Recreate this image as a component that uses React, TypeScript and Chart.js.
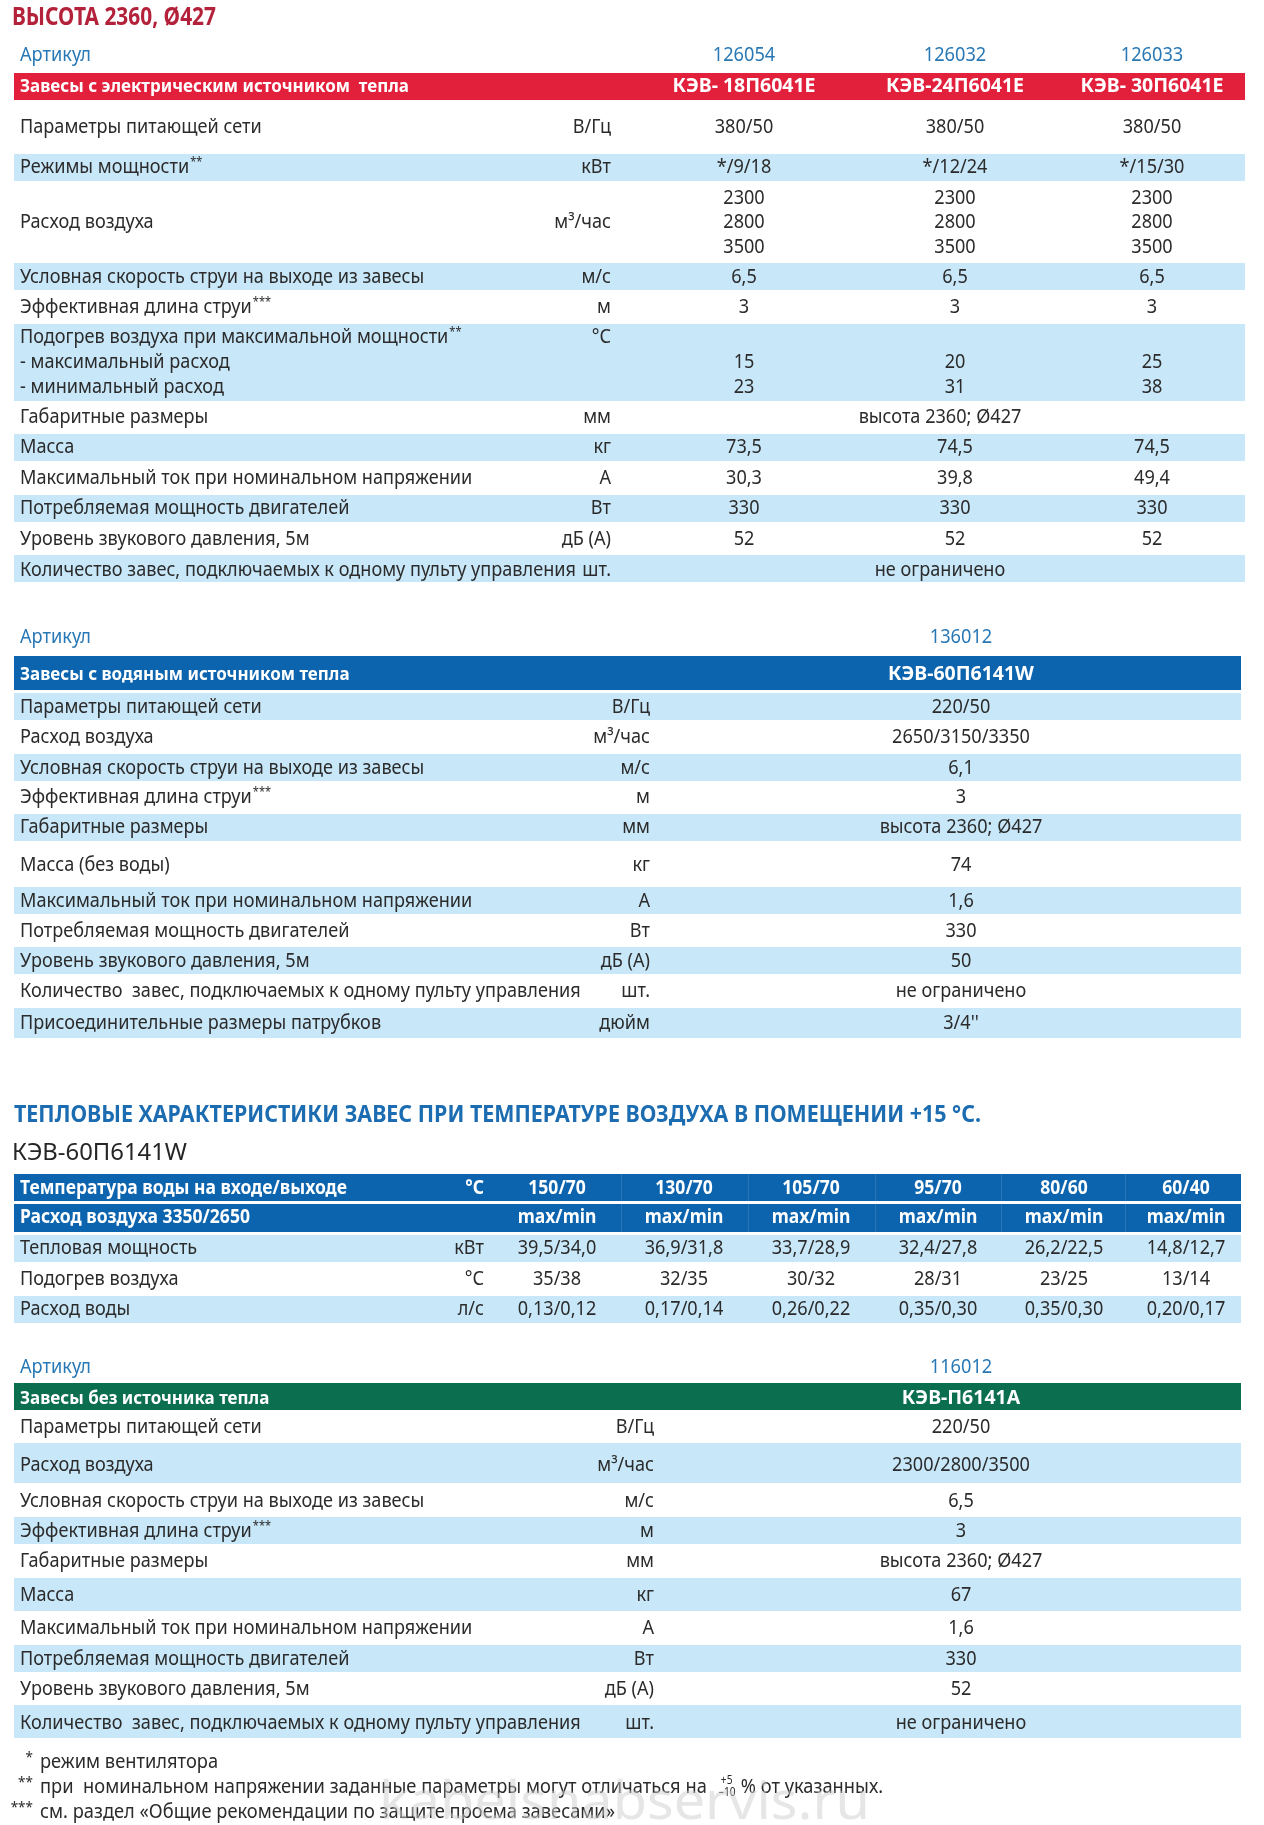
import React, { useEffect, useRef } from 'react';
import { Chart, registerables } from 'chart.js';

Chart.register(...registerables);

// ---------------- DATA ----------------
const PAGE_TITLE = 'ВЫСОТА 2360, Ø427';
const ARTICLE_LABEL = 'Артикул';

// Electric curtains
const ELEC_ARTICLES = ['126054', '126032', '126033'];
const ELEC_HEADER = 'Завесы с электрическим источником  тепла';
const ELEC_MODELS = ['КЭВ- 18П6041Е', 'КЭВ-24П6041Е', 'КЭВ- 30П6041Е'];
const ELEC_LABELS = [
  'Параметры питающей сети',
  'Режимы мощности**',
  'Расход воздуха',
  'Условная скорость струи на выходе из завесы',
  'Эффективная длина струи***',
  'Подогрев воздуха при максимальной мощности**\n- максимальный расход\n- минимальный расход',
  'Габаритные размеры',
  'Масса',
  'Максимальный ток при номинальном напряжении',
  'Потребляемая мощность двигателей',
  'Уровень звукового давления, 5м',
  'Количество завес, подключаемых к одному пульту управления',
];
const ELEC_UNITS = ['В/Гц', 'кВт', 'м³/час', 'м/с', 'м', '°С', 'мм', 'кг', 'А', 'Вт', 'дБ (А)', 'шт.'];
const ELEC_COL_1 = ['380/50', '*/9/18', '2300\n2800\n3500', '6,5', '3', '\n15\n23', '', '73,5', '30,3', '330', '52', ''];
const ELEC_COL_2 = ['380/50', '*/12/24', '2300\n2800\n3500', '6,5', '3', '\n20\n31', '', '74,5', '39,8', '330', '52', ''];
const ELEC_COL_3 = ['380/50', '*/15/30', '2300\n2800\n3500', '6,5', '3', '\n25\n38', '', '74,5', '49,4', '330', '52', ''];
const ELEC_SHARED = ['', '', '', '', '', '', 'высота 2360; Ø427', '', '', '', '', 'не ограничено'];

// Water curtains
const WATER_ARTICLE = '136012';
const WATER_HEADER = 'Завесы с водяным источником тепла';
const WATER_MODEL = 'КЭВ-60П6141W';
const WATER_LABELS = [
  'Параметры питающей сети',
  'Расход воздуха',
  'Условная скорость струи на выходе из завесы',
  'Эффективная длина струи***',
  'Габаритные размеры',
  'Масса (без воды)',
  'Максимальный ток при номинальном напряжении',
  'Потребляемая мощность двигателей',
  'Уровень звукового давления, 5м',
  'Количество  завес, подключаемых к одному пульту управления',
  'Присоединительные размеры патрубков',
];
const WATER_UNITS = ['В/Гц', 'м³/час', 'м/с', 'м', 'мм', 'кг', 'А', 'Вт', 'дБ (А)', 'шт.', 'дюйм'];
const WATER_VALUES = ['220/50', '2650/3150/3350', '6,1', '3', 'высота 2360; Ø427', '74', '1,6', '330', '50', 'не ограничено', "3/4''"];

// Thermal characteristics
const THERMAL_TITLE = 'ТЕПЛОВЫЕ ХАРАКТЕРИСТИКИ ЗАВЕС ПРИ ТЕМПЕРАТУРЕ ВОЗДУХА В ПОМЕЩЕНИИ +15 °С.';
const THERMAL_MODEL = 'КЭВ-60П6141W';
const WATER_TEMP_LABEL = 'Температура воды на входе/выходе';
const WATER_TEMP_UNIT = '°С';
const WATER_TEMPS = ['150/70', '130/70', '105/70', '95/70', '80/60', '60/40'];
const AIRFLOW_LABEL = 'Расход воздуха 3350/2650';
const AIRFLOW_MODES = ['max/min', 'max/min', 'max/min', 'max/min', 'max/min', 'max/min'];
const THERMAL_LABELS = ['Тепловая мощность', 'Подогрев воздуха', 'Расход воды'];
const THERMAL_UNITS = ['кВт', '°С', 'л/с'];
const HEAT_OUTPUT = ['39,5/34,0', '36,9/31,8', '33,7/28,9', '32,4/27,8', '26,2/22,5', '14,8/12,7'];
const AIR_HEATING = ['35/38', '32/35', '30/32', '28/31', '23/25', '13/14'];
const WATER_FLOW = ['0,13/0,12', '0,17/0,14', '0,26/0,22', '0,35/0,30', '0,35/0,30', '0,20/0,17'];

// Fan-only curtains
const FAN_ARTICLE = '116012';
const FAN_HEADER = 'Завесы без источника тепла';
const FAN_MODEL = 'КЭВ-П6141А';
const FAN_LABELS = [
  'Параметры питающей сети',
  'Расход воздуха',
  'Условная скорость струи на выходе из завесы',
  'Эффективная длина струи***',
  'Габаритные размеры',
  'Масса',
  'Максимальный ток при номинальном напряжении',
  'Потребляемая мощность двигателей',
  'Уровень звукового давления, 5м',
  'Количество  завес, подключаемых к одному пульту управления',
];
const FAN_UNITS = ['В/Гц', 'м³/час', 'м/с', 'м', 'мм', 'кг', 'А', 'Вт', 'дБ (А)', 'шт.'];
const FAN_VALUES = ['220/50', '2300/2800/3500', '6,5', '3', 'высота 2360; Ø427', '67', '1,6', '330', '52', 'не ограничено'];

// Footnotes
const FOOTNOTE_MARKS = ['*', '**', '***'];
const FOOTNOTES = [
  'режим вентилятора',
  'при  номинальном напряжении заданные параметры могут отличаться на',
  'см. раздел «Общие рекомендации по защите проема завесами»',
];
const TOLERANCE_UP = '+5';
const TOLERANCE_DOWN = '–10';
const TOLERANCE_TAIL = '% от указанных.';
const WATERMARK = 'kabelsnabservis.ru';

// ---------------- LAYOUT & STYLE ----------------
const W = 1264;
const H = 1825;
const SHADE = '#c8e7f8';
const RED = '#e3203c';
const BLUE = '#0c64ae';
const GREEN = '#0b6e4f';
const FONT = '"Noto Sans", "Open Sans", sans-serif';

type Layout = {
  left: number; right: number; labelX: number; unitRight: number; valueX: number[]; sharedX: number;
  articleY: number; headers: number[][]; headerTextY: number[]; headerColor: string;
  rowTops: number[]; end: number; textY: number[]; shaded: boolean[]; lineGap: number;
};

const ELEC_LAYOUT: Layout = {
  left: 14, right: 1245, labelX: 20, unitRight: 611, valueX: [744, 955, 1152], sharedX: 940,
  articleY: 56, headers: [[73, 100]], headerTextY: [87], headerColor: RED,
  rowTops: [100, 154, 181, 263, 290, 324, 401, 434, 461, 495, 522, 555], end: 582,
  textY: [128, 168, 223, 278, 308, 338, 418, 448, 479, 509, 540, 571],
  shaded: [false, true, false, true, false, true, false, true, false, true, false, true], lineGap: 24.7,
};
const WATER_LAYOUT: Layout = {
  left: 14, right: 1241, labelX: 20, unitRight: 650, valueX: [961], sharedX: 961,
  articleY: 638, headers: [[656, 690]], headerTextY: [675], headerColor: BLUE,
  rowTops: [693, 720, 754, 781, 814, 841, 887, 914, 947, 974, 1008], end: 1038,
  textY: [708, 738, 769, 798, 828, 866, 902, 932, 962, 992, 1024],
  shaded: [true, false, true, false, true, false, true, false, true, false, true], lineGap: 24.7,
};
const THERMAL_LAYOUT: Layout = {
  left: 14, right: 1241, labelX: 20, unitRight: 484, valueX: [557, 684, 811, 938, 1064, 1186], sharedX: 900,
  articleY: 0, headers: [[1174, 1201], [1204, 1232]], headerTextY: [1189, 1218], headerColor: BLUE,
  rowTops: [1235, 1262, 1296], end: 1323, textY: [1249, 1280, 1310],
  shaded: [true, false, true], lineGap: 24.7,
};
const FAN_LAYOUT: Layout = {
  left: 14, right: 1241, labelX: 20, unitRight: 654, valueX: [961], sharedX: 961,
  articleY: 1368, headers: [[1383, 1410]], headerTextY: [1399], headerColor: GREEN,
  rowTops: [1410, 1443, 1483, 1517, 1544, 1578, 1611, 1645, 1672, 1705], end: 1738,
  textY: [1428, 1466, 1502, 1532, 1562, 1596, 1629, 1660, 1690, 1724],
  shaded: [false, true, false, true, false, true, false, true, false, true], lineGap: 24.7,
};

type Style = { font: string; color: string; sample?: string; width?: number };
const ST: Record<string, Style> = {
  title: { font: `bold 25px ${FONT}`, color: '#b3223a', sample: PAGE_TITLE, width: 204 },
  section: { font: `bold 23px ${FONT}`, color: '#1b6cb1', sample: THERMAL_TITLE, width: 967 },
  model: { font: `23px ${FONT}`, color: '#262626', sample: THERMAL_MODEL, width: 175 },
  article: { font: `19px ${FONT}`, color: '#2878b6', sample: ARTICLE_LABEL, width: 71 },
  body: { font: `19px ${FONT}`, color: '#2b2b2b', sample: 'Количество завес, подключаемых к одному пульту управления', width: 556 },
  star: { font: `13px ${FONT}`, color: '#2b2b2b' },
  head: { font: `bold 18px ${FONT}`, color: '#ffffff', sample: ELEC_HEADER, width: 389 },
  headModel: { font: `bold 19px ${FONT}`, color: '#ffffff', sample: 'КЭВ-24П6041Е', width: 138 },
  head3: { font: `bold 19px ${FONT}`, color: '#ffffff', sample: WATER_TEMP_LABEL, width: 327 },
  foot: { font: `19px ${FONT}`, color: '#2b2b2b', sample: FOOTNOTES[2], width: 575 },
  footMark: { font: `15px ${FONT}`, color: '#2b2b2b' },
  tiny: { font: `12px ${FONT}`, color: '#2b2b2b' },
  mark: { font: `52px ${FONT}`, color: 'rgba(205,205,205,0.5)', sample: WATERMARK, width: 491 },
};

// ---------------- DRAW HELPERS ----------------
const sqCache = new Map<string, number>();
function squeeze(ctx: CanvasRenderingContext2D, st: Style): number {
  if (!st.sample || !st.width) return 1;
  const key = st.font + '|' + st.sample;
  if (!sqCache.has(key)) {
    ctx.save();
    ctx.font = st.font;
    sqCache.set(key, st.width / ctx.measureText(st.sample).width);
    ctx.restore();
  }
  return sqCache.get(key)!;
}
function drawText(ctx: CanvasRenderingContext2D, s: string, x: number, y: number, st: Style, align: CanvasTextAlign = 'left', k?: number): number {
  if (!s) return 0;
  const f = k ?? squeeze(ctx, st);
  ctx.save();
  ctx.font = st.font;
  ctx.fillStyle = st.color;
  ctx.textAlign = align;
  ctx.textBaseline = 'middle';
  const w = ctx.measureText(s).width * f;
  ctx.translate(x, y);
  ctx.scale(f, 1);
  ctx.fillText(s, 0, 0);
  ctx.restore();
  return w;
}
function drawLabel(ctx: CanvasRenderingContext2D, s: string, x: number, y: number, st: Style) {
  const m = s.match(/^(.*?)(\*+)$/);
  if (m) {
    const w = drawText(ctx, m[1], x, y, st, 'left');
    drawText(ctx, m[2], x + w + 1, y - 6, ST.star, 'left', 0.85);
  } else {
    drawText(ctx, s, x, y, st, 'left');
  }
}

function bandsFor(l: Layout) {
  const cx = (l.left + l.right) / 2;
  const out: { x: number; y: number[]; c: string }[] = [];
  l.headers.forEach(([t, b]) => out.push({ x: cx, y: [t, b], c: l.headerColor }));
  l.rowTops.forEach((t, i) => {
    if (l.shaded[i]) out.push({ x: cx, y: [t, i + 1 < l.rowTops.length ? l.rowTops[i + 1] : l.end], c: SHADE });
  });
  return out;
}

type Px = (v: number) => number;

function drawRows(ctx: CanvasRenderingContext2D, X: Px, Y: Px, l: Layout, labels: string[], units: string[], cols: string[][], shared?: string[]) {
  labels.forEach((label, i) => {
    const lLines = label.split('\n');
    const vLines = cols.map((c) => (c[i] || '').split('\n'));
    const n = Math.max(lLines.length, ...vLines.map((v) => v.length));
    const firstY = lLines.length > 1 ? l.textY[i] : l.textY[i] - ((n - 1) / 2) * l.lineGap;
    lLines.forEach((s, k) => drawLabel(ctx, s, X(l.labelX), Y(lLines.length > 1 ? firstY + k * l.lineGap : l.textY[i]), ST.body));
    drawText(ctx, units[i], X(l.unitRight), Y(l.textY[i]), ST.body, 'right');
    vLines.forEach((lines, c) => {
      lines.forEach((s, k) => drawText(ctx, s, X(l.valueX[c]), Y(n > 1 ? firstY + k * l.lineGap : l.textY[i]), ST.body, 'center'));
    });
    if (shared && shared[i]) drawText(ctx, shared[i], X(l.sharedX), Y(l.textY[i]), ST.body, 'center');
  });
}

const tablePlugin = {
  id: 'specTable',
  afterDatasetsDraw(chart: any) {
    const ctx: CanvasRenderingContext2D = chart.ctx;
    const X: Px = (v) => chart.scales.x.getPixelForValue(v);
    const Y: Px = (v) => chart.scales.y.getPixelForValue(v);

    // Title
    drawText(ctx, PAGE_TITLE, X(12), Y(18), ST.title);

    // Electric table
    const e = ELEC_LAYOUT;
    drawText(ctx, ARTICLE_LABEL, X(e.labelX), Y(e.articleY), ST.article);
    ELEC_ARTICLES.forEach((a, c) => drawText(ctx, a, X(e.valueX[c]), Y(e.articleY), ST.article, 'center'));
    drawText(ctx, ELEC_HEADER, X(e.labelX), Y(e.headerTextY[0]), ST.head);
    ELEC_MODELS.forEach((m, c) => drawText(ctx, m, X(e.valueX[c]), Y(e.headerTextY[0]), ST.headModel, 'center'));
    drawRows(ctx, X, Y, e, ELEC_LABELS, ELEC_UNITS, [ELEC_COL_1, ELEC_COL_2, ELEC_COL_3], ELEC_SHARED);

    // Water table
    const w = WATER_LAYOUT;
    drawText(ctx, ARTICLE_LABEL, X(w.labelX), Y(w.articleY), ST.article);
    drawText(ctx, WATER_ARTICLE, X(w.valueX[0]), Y(w.articleY), ST.article, 'center');
    drawText(ctx, WATER_HEADER, X(w.labelX), Y(w.headerTextY[0]), ST.head);
    drawText(ctx, WATER_MODEL, X(w.valueX[0]), Y(w.headerTextY[0]), ST.headModel, 'center');
    drawRows(ctx, X, Y, w, WATER_LABELS, WATER_UNITS, [WATER_VALUES]);

    // Thermal table
    const t = THERMAL_LAYOUT;
    drawText(ctx, THERMAL_TITLE, X(14), Y(1115), ST.section);
    drawText(ctx, THERMAL_MODEL, X(12), Y(1153), ST.model);
    ctx.save();
    ctx.strokeStyle = 'rgba(255,255,255,0.12)';
    ctx.lineWidth = 1;
    for (let c = 0; c < t.valueX.length - 1; c++) {
      const mx = Math.round(X((t.valueX[c] + t.valueX[c + 1]) / 2)) + 0.5;
      t.headers.forEach(([a, b]) => {
        ctx.beginPath();
        ctx.moveTo(mx, Y(a));
        ctx.lineTo(mx, Y(b));
        ctx.stroke();
      });
    }
    ctx.restore();
    drawText(ctx, WATER_TEMP_LABEL, X(t.labelX), Y(t.headerTextY[0]), ST.head3);
    drawText(ctx, WATER_TEMP_UNIT, X(t.unitRight), Y(t.headerTextY[0]), ST.head3, 'right');
    WATER_TEMPS.forEach((s, c) => drawText(ctx, s, X(t.valueX[c]), Y(t.headerTextY[0]), ST.head3, 'center'));
    drawText(ctx, AIRFLOW_LABEL, X(t.labelX), Y(t.headerTextY[1]), ST.head3);
    AIRFLOW_MODES.forEach((s, c) => drawText(ctx, s, X(t.valueX[c]), Y(t.headerTextY[1]), ST.head3, 'center'));
    const thermalCols = t.valueX.map((_, c) => [HEAT_OUTPUT[c], AIR_HEATING[c], WATER_FLOW[c]]);
    drawRows(ctx, X, Y, t, THERMAL_LABELS, THERMAL_UNITS, thermalCols);

    // Fan-only table
    const f = FAN_LAYOUT;
    drawText(ctx, ARTICLE_LABEL, X(f.labelX), Y(f.articleY), ST.article);
    drawText(ctx, FAN_ARTICLE, X(f.valueX[0]), Y(f.articleY), ST.article, 'center');
    drawText(ctx, FAN_HEADER, X(f.labelX), Y(f.headerTextY[0]), ST.head);
    drawText(ctx, FAN_MODEL, X(f.valueX[0]), Y(f.headerTextY[0]), ST.headModel, 'center');
    drawRows(ctx, X, Y, f, FAN_LABELS, FAN_UNITS, [FAN_VALUES]);

    // Footnotes
    const footY = [1763, 1788, 1813];
    FOOTNOTES.forEach((s, i) => {
      drawText(ctx, FOOTNOTE_MARKS[i], X(33), Y(footY[i] - 5), ST.footMark, 'right', 0.9);
      const wd = drawText(ctx, s, X(40), Y(footY[i]), ST.foot);
      if (i === 1) {
        const x2 = 40 + wd + 12;
        drawText(ctx, TOLERANCE_UP, X(x2 + 2), Y(footY[i] - 7), ST.tiny, 'left', 0.85);
        drawText(ctx, TOLERANCE_DOWN, X(x2), Y(footY[i] + 5), ST.tiny, 'left', 0.85);
        drawText(ctx, TOLERANCE_TAIL, X(x2 + 22), Y(footY[i]), ST.foot);
      }
    });

    // Watermark
    drawText(ctx, WATERMARK, X(379), Y(1804), ST.mark);
  },
};

export default function App() {
  const ref = useRef<HTMLCanvasElement>(null);
  useEffect(() => {
    const canvas = ref.current;
    if (!canvas) return;
    const elecBands = bandsFor(ELEC_LAYOUT);
    const otherBands = [...bandsFor(WATER_LAYOUT), ...bandsFor(THERMAL_LAYOUT), ...bandsFor(FAN_LAYOUT)];
    const chart = new Chart(canvas, {
      type: 'bar',
      data: {
        datasets: [
          {
            label: 'electric',
            data: elecBands.map((b) => ({ x: b.x, y: b.y })) as any,
            backgroundColor: elecBands.map((b) => b.c),
            barThickness: ELEC_LAYOUT.right - ELEC_LAYOUT.left,
            grouped: false,
            borderWidth: 0,
            inflateAmount: 0,
          } as any,
          {
            label: 'other',
            data: otherBands.map((b) => ({ x: b.x, y: b.y })) as any,
            backgroundColor: otherBands.map((b) => b.c),
            barThickness: WATER_LAYOUT.right - WATER_LAYOUT.left,
            grouped: false,
            borderWidth: 0,
            inflateAmount: 0,
          } as any,
        ],
      },
      options: {
        animation: false,
        responsive: false,
        maintainAspectRatio: false,
        devicePixelRatio: 1,
        layout: { padding: 0 },
        events: [],
        scales: {
          x: { type: 'linear', min: 0, max: W, display: false, offset: false, grid: { display: false } },
          y: { type: 'linear', min: 0, max: H, reverse: true, display: false, offset: false, grid: { display: false } },
        },
        plugins: { legend: { display: false }, tooltip: { enabled: false }, title: { display: false } },
      } as any,
      plugins: [tablePlugin],
    });
    return () => chart.destroy();
  }, []);
  return (
    <div style={{ position: 'absolute', left: 0, top: 0, width: W, height: H, background: '#ffffff' }}>
      <canvas ref={ref} width={W} height={H} style={{ display: 'block', width: W, height: H }} />
    </div>
  );
}
